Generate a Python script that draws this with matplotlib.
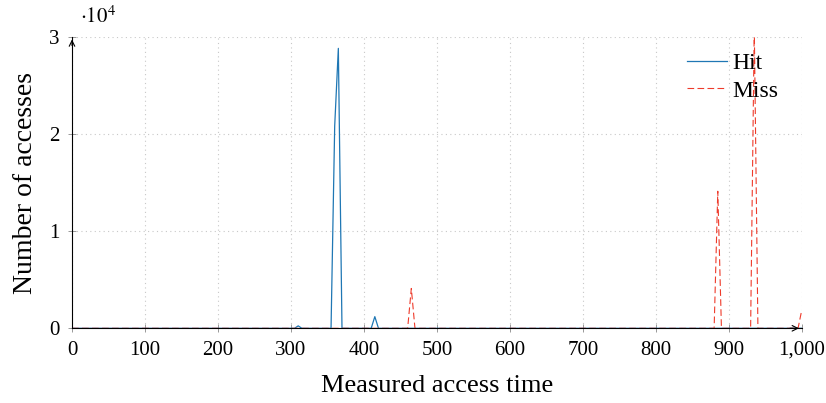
import matplotlib
matplotlib.use("Agg")
import matplotlib.pyplot as plt

# Histogram of measured access times (only the points where the curve changes)
hit_x = [0, 305, 310, 315, 355, 360, 365, 370, 410, 415, 420, 1000]
hit_y = [0, 0, 250, 0, 0, 20800, 28800, 0, 0, 1200, 0, 0]
miss_x = [0, 460, 465, 470, 880, 885, 890, 930, 935, 940, 995, 1000]
miss_y = [0, 0, 4100, 0, 0, 14100, 0, 0, 31000, 0, 0, 1850]

x_ticks = [0, 100, 200, 300, 400, 500, 600, 700, 800, 900, 1000]
x_ticklabels = ["0", "100", "200", "300", "400", "500", "600", "700", "800", "900", "1,000"]
y_ticks = [0, 10000, 20000, 30000]
y_ticklabels = ["0", "1", "2", "3"]

plt.rcParams['font.family'] = ['Liberation Serif', 'DejaVu Serif']
plt.rcParams['mathtext.fontset'] = 'stix'

fig = plt.figure(figsize=(8.26, 4.03), dpi=100)
ax = fig.add_axes([72 / 826, 74.7 / 403, 729.7 / 826, 291.6 / 403])

ax.plot(hit_x, hit_y, color='#1f77b4', linewidth=0.9, label='Hit')
ax.plot(miss_x, miss_y, color='#ee3b2b', linewidth=0.8,
        linestyle=(0, (6, 3)), label='Miss')

ax.set_xlim(0, 1000)
ax.set_ylim(0, 30000)
ax.set_xticks(x_ticks)
ax.set_xticklabels(x_ticklabels)
ax.set_yticks(y_ticks)
ax.set_yticklabels(y_ticklabels)
ax.tick_params(direction='inout', length=6, width=0.6, color='#888888',
               labelsize=15, pad=6)

ax.grid(True, linestyle=(0, (1, 3)), color='#c8c8c8', linewidth=0.8)
ax.spines['top'].set_visible(False)
ax.spines['right'].set_visible(False)
ax.spines['left'].set_linewidth(0.8)
ax.spines['bottom'].set_linewidth(0.8)

# arrow heads at the end of the axes
ax.annotate('', xy=(1.0, 0), xytext=(0.98, 0), xycoords='axes fraction',
            arrowprops=dict(arrowstyle='->', lw=0.8, color='black'))
ax.annotate('', xy=(0, 1.0), xytext=(0, 0.96), xycoords='axes fraction',
            arrowprops=dict(arrowstyle='->', lw=0.8, color='black'))

ax.text(0.011, 1.03, r'$\cdot 10^{4}$', transform=ax.transAxes,
        fontsize=15, ha='left', va='bottom')

ax.set_xlabel("Measured access time", fontsize=19, labelpad=11)
ax.set_ylabel("Number of accesses", fontsize=20, labelpad=8)

ax.legend(loc='upper left', bbox_to_anchor=(0.843, 0.945), frameon=False,
          fontsize=17, handlelength=1.7, handletextpad=0.2, labelspacing=0.25,
          borderaxespad=0, borderpad=0)

fig.savefig("out.png", dpi=100)
